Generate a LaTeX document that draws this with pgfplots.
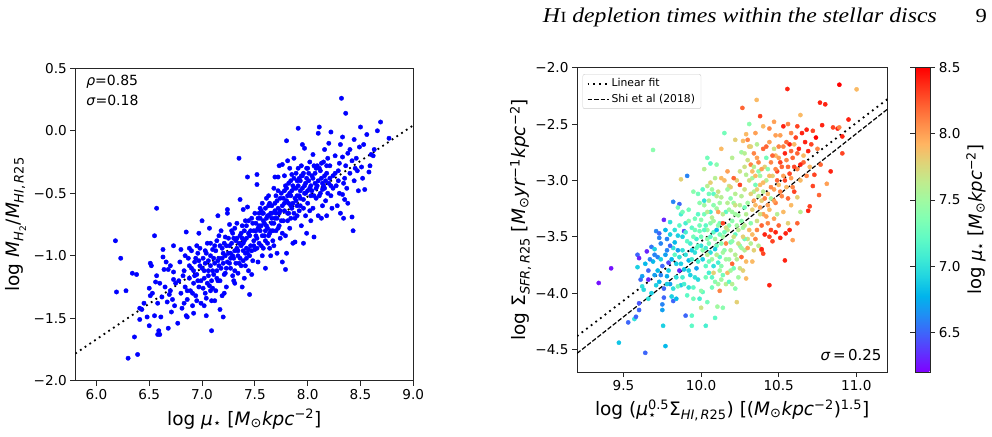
\documentclass[border=0pt]{standalone}
\usepackage{fontspec}
\setmainfont{DejaVu Sans}
\newfontfamily\hdrfont[FakeStretch=1.13]{Liberation Serif}
\usepackage{amsmath}
\usepackage{pgfplots}
\pgfplotsset{compat=1.18}

\newcommand\fs[1]{\fontsize{#1}{#1}\selectfont}

% matplotlib "rainbow" colormap: R=|2x-0.5|, G=sin(pi x), B=cos(pi x/2)
\pgfplotsset{colormap={mplrainbow}{
  rgb=(0.5,0,1) rgb=(0.375,0.195,0.995) rgb=(0.25,0.383,0.981) rgb=(0.125,0.556,0.957)
  rgb=(0,0.707,0.924) rgb=(0.125,0.831,0.882) rgb=(0.25,0.924,0.831) rgb=(0.375,0.981,0.773)
  rgb=(0.5,1,0.707) rgb=(0.625,0.981,0.634) rgb=(0.75,0.924,0.556) rgb=(0.875,0.831,0.471)
  rgb=(1,0.707,0.383) rgb=(1,0.556,0.290) rgb=(1,0.383,0.195) rgb=(1,0.195,0.098) rgb=(1,0,0)}}

\pgfplotsset{mplaxis/.style={
  scale only axis, enlargelimits=false,
  axis line style={line width=0.9pt, black!85},
  tick style={line width=0.9pt, black!85},
  tick align=outside, major tick length=5pt, tick pos=left,
  tick label style={font=\fs{13.6}},
  label style={font=\fs{18.5}},
}}

% log mu_* vs log M_H2/M_HI,R25
\pgfplotstableread{
x y
6.18 -0.88
6.23 -1.02
6.19 -1.29
6.28 -1.28
6.34 -1.14
6.38 -1.15
6.30 -1.82
6.39 -1.79
6.36 -1.65
6.41 -1.42
6.45 -1.38
6.41 -1.51
6.48 -1.49
6.50 -1.56
6.50 -1.26
6.51 -1.32
6.43 -1.43
6.57 -0.62
6.55 -0.84
6.51 -1.06
6.52 -1.08
6.63 -0.95
6.63 -1.01
6.57 -1.16
6.64 -1.11
6.68 -1.11
6.73 -1.13
6.73 -1.19
6.56 -1.21
6.60 -1.22
6.65 -1.25
6.70 -1.28
6.62 -1.33
6.58 -1.38
6.67 -1.37
6.55 -1.48
6.61 -1.49
6.59 -1.60
6.60 -1.63
6.58 -1.63
6.68 -1.58
6.71 -1.45
6.74 -1.40
6.69 -1.31
6.53 -1.30
6.73 -0.92
6.66 -1.05
6.70 -1.08
6.75 -1.22
6.72 -1.35
6.77 -1.54
6.78 -1.20
6.79 -1.05
6.80 -1.30
6.81 -1.42
6.83 -1.12
6.84 -1.25
6.85 -0.81
6.85 -1.48
6.86 -1.35
6.87 -1.02
6.88 -1.18
6.89 -1.28
6.90 -0.96
6.90 -1.10
6.91 -1.40
6.92 -1.22
6.93 -1.05
6.94 -1.32
6.95 -1.15
6.96 -0.98
6.97 -0.82
6.97 -1.25
6.98 -1.08
6.99 -1.38
6.80 -0.95
6.83 -1.38
6.86 -1.49
6.92 -1.46
6.95 -0.92
6.88 -0.94
7.00 -0.72
7.01 -1.02
7.02 -1.18
7.03 -1.30
7.04 -1.48
7.05 -0.90
7.06 -1.12
7.07 -0.78
7.07 -1.24
7.08 -1.00
7.09 -1.60
7.09 -1.36
7.10 -0.95
7.11 -1.15
7.12 -1.06
7.13 -1.28
7.14 -0.88
7.15 -0.68
7.15 -1.20
7.16 -1.02
7.17 -1.43
7.17 -0.92
7.18 -1.10
7.19 -1.32
7.20 -1.49
7.20 -0.98
7.21 -1.15
7.22 -0.85
7.23 -1.25
7.24 -0.63
7.24 -0.66
7.24 -1.05
7.05 -1.22
7.03 -0.96
7.12 -1.36
7.18 -0.80
7.22 -1.00
7.08 -1.08
7.14 -1.12
7.02 -1.40
7.10 -1.26
7.16 -0.84
7.21 -1.30
7.26 -0.92
7.27 -1.10
7.28 -0.80
7.29 -1.00
7.30 -1.20
7.30 -0.86
7.31 -0.96
7.32 -1.06
7.33 -0.74
7.34 -1.14
7.35 -0.22
7.35 -0.90
7.36 -0.55
7.36 -1.02
7.37 -0.82
7.38 -1.25
7.39 -0.63
7.39 -0.96
7.40 -1.18
7.40 -0.88
7.41 -1.08
7.42 -0.76
7.43 -0.37
7.43 -0.61
7.43 -0.98
7.44 -1.12
7.45 -1.31
7.45 -0.84
7.46 -0.92
7.47 -0.70
7.48 -1.04
7.49 -0.80
7.27 -0.98
7.29 -1.16
7.32 -0.88
7.34 -1.00
7.37 -1.08
7.41 -0.72
7.44 -0.95
7.47 -1.15
7.31 -1.22
7.38 -0.86
7.26 -0.75
7.42 -1.02
7.50 -0.95
7.51 -0.74
7.52 -0.43
7.52 -0.35
7.52 -0.86
7.53 -1.05
7.54 -0.66
7.55 -0.80
7.56 -0.92
7.57 -0.58
7.57 -1.00
7.58 -0.72
7.59 -0.84
7.60 -1.10
7.60 -0.62
7.61 -0.76
7.62 -0.90
7.63 -0.52
7.63 -0.68
7.64 -0.82
7.65 -1.00
7.66 -0.60
7.66 -0.74
7.67 -0.88
7.68 -0.46
7.69 -0.37
7.69 -0.70
7.70 -0.80
7.71 -0.98
7.72 -0.37
7.72 -0.62
7.73 -0.28
7.73 -0.76
7.74 -0.54
7.55 -0.70
7.58 -0.94
7.62 -0.78
7.65 -0.66
7.68 -0.92
7.71 -0.56
7.53 -0.78
7.61 -0.54
7.70 -0.66
7.74 -0.86
7.56 -0.64
7.64 -0.94
7.76 -0.27
7.76 -1.05
7.76 -0.60
7.77 -0.72
7.78 -0.48
7.79 -1.11
7.79 -0.84
7.80 -0.08
7.80 -0.98
7.80 -0.56
7.81 -0.24
7.81 -0.66
7.82 -0.42
7.83 -0.78
7.84 -0.52
7.85 -0.62
7.85 -0.35
7.86 -0.90
7.87 -0.22
7.87 -0.46
7.88 -0.89
7.88 -0.70
7.89 -0.56
7.90 -0.40
7.91 0.02
7.91 -0.30
7.92 -0.64
7.93 -0.48
7.94 -0.76
7.95 -0.11
7.95 -0.36
7.96 -0.90
7.96 -0.55
7.97 -0.14
7.97 -0.44
7.98 -0.68
7.99 -0.82
7.99 -0.30
7.78 -0.36
7.82 -0.58
7.84 -0.70
7.89 -0.34
7.92 -0.52
7.94 -0.28
7.98 -0.50
7.86 -0.44
7.90 -0.60
7.83 -0.30
7.93 -0.40
8.00 -0.58
8.01 -0.40
8.02 -0.25
8.03 -0.72
8.04 -0.48
8.05 -0.19
8.05 -0.62
8.06 -0.85
8.07 -0.34
8.08 -0.54
8.09 -0.44
8.10 -0.02
8.10 -0.68
8.11 0.03
8.11 -0.30
8.12 -0.50
8.13 -0.38
8.14 -0.60
8.15 -0.25
8.16 -0.15
8.16 -0.46
8.17 -0.56
8.18 -0.68
8.18 -0.34
8.20 -0.10
8.20 -0.42
8.21 -0.28
8.22 -0.01
8.22 -0.52
8.23 -0.62
8.24 -0.36
8.03 -0.52
8.07 -0.42
8.14 -0.47
8.19 -0.22
8.24 -0.46
8.02 -0.64
8.09 -0.28
8.13 -0.70
8.17 -0.40
8.26 -0.20
8.27 -0.44
8.28 -0.60
8.29 -0.32
8.30 -0.50
8.31 -0.11
8.31 -0.66
8.32 0.26
8.33 -0.05
8.33 -0.21
8.33 -0.51
8.34 -0.70
8.35 -0.38
8.36 0.14
8.36 -0.28
8.37 -0.46
8.38 -0.58
8.40 -0.15
8.40 -0.34
8.42 -0.69
8.42 -0.24
8.43 -0.80
8.44 -0.07
8.44 -0.40
8.46 -0.22
8.47 -0.32
8.48 -0.48
8.49 -0.13
8.50 0.03
8.29 -0.40
8.35 -0.55
8.38 -0.18
8.45 -0.30
8.51 -0.29
8.53 -0.11
8.54 -0.47
8.56 -0.03
8.58 -0.33
8.59 -0.28
8.60 -0.19
8.62 -0.20
8.63 -0.15
8.66 0.00
8.69 0.07
8.77 -0.06
8.52 -0.38
6.92 -1.12
6.94 -1.02
6.96 -1.20
6.98 -0.94
7.00 -1.10
7.01 -1.26
7.03 -1.06
7.04 -0.98
7.06 -1.16
7.08 -0.90
7.09 -1.20
7.11 -1.02
7.13 -0.96
7.14 -1.18
7.16 -1.08
7.19 -0.94
7.20 -1.06
7.22 -1.14
7.23 -0.92
7.25 -0.98
7.26 -1.06
7.28 -0.90
7.30 -1.02
7.31 -0.78
7.33 -0.94
7.35 -1.06
7.36 -0.84
7.38 -0.76
7.39 -0.90
7.41 -0.98
7.42 -0.86
7.44 -0.72
7.46 -0.80
7.47 -0.96
7.49 -0.88
7.50 -0.66
7.51 -0.84
7.53 -0.70
7.54 -0.90
7.56 -0.76
7.57 -0.66
7.59 -0.74
7.60 -0.88
7.62 -0.68
7.63 -0.60
7.65 -0.80
7.66 -0.66
7.68 -0.74
7.69 -0.58
7.71 -0.70
7.72 -0.48
7.74 -0.64
7.75 -0.72
7.77 -0.54
7.78 -0.64
7.80 -0.46
7.81 -0.72
7.83 -0.50
7.84 -0.40
7.86 -0.58
7.87 -0.66
7.89 -0.46
7.90 -0.52
7.92 -0.38
7.93 -0.60
7.95 -0.46
7.96 -0.34
7.98 -0.42
8.00 -0.48
8.01 -0.34
8.03 -0.44
8.05 -0.38
8.06 -0.52
8.08 -0.30
8.10 -0.40
8.12 -0.32
8.14 -0.42
8.16 -0.36
8.19 -0.50
8.21 -0.38
6.82 -1.16
6.84 -1.00
6.86 -1.28
6.88 -1.08
6.91 -1.30
6.93 -1.16
6.95 -1.36
6.97 -1.04
6.99 -1.20
7.02 -1.12
7.04 -1.34
7.06 -1.04
7.08 -1.28
7.10 -1.12
7.12 -0.92
7.15 -1.04
7.17 -1.20
7.19 -1.02
7.21 -0.90
7.23 -1.10
7.25 -0.86
7.27 -1.02
7.29 -0.82
7.31 -1.12
7.33 -0.86
7.34 -0.96
7.37 -0.92
7.39 -1.04
7.40 -0.80
7.42 -0.94
7.44 -0.82
7.45 -1.00
7.48 -0.74
7.49 -0.92
7.51 -0.80
7.52 -0.94
7.54 -0.76
7.55 -0.62
7.57 -0.84
7.58 -0.66
7.60 -0.80
7.61 -0.70
7.63 -0.84
7.64 -0.58
7.66 -0.70
7.67 -0.80
7.69 -0.64
7.70 -0.52
7.72 -0.78
7.73 -0.66
7.75 -0.50
7.76 -0.82
7.78 -0.58
7.79 -0.44
7.81 -0.52
7.82 -0.66
7.84 -0.60
7.85 -0.48
7.87 -0.38
7.88 -0.54
7.90 -0.68
7.91 -0.44
7.93 -0.54
7.94 -0.36
7.96 -0.62
7.97 -0.50
7.99 -0.38
8.00 -0.30
8.02 -0.46
8.04 -0.36
8.06 -0.28
8.08 -0.46
8.11 -0.52
8.13 -0.26
8.15 -0.44
8.18 -0.28
8.22 -0.44
8.26 -0.34
8.30 -0.26
8.34 -0.42
}\ratiodata

% extended Schmidt law sample: x, log Sigma_SFR, colour = log mu_*
\pgfplotstableread{
x y c
9.34 -3.91 6.25
9.42 -3.78 6.25
9.47 -4.44 6.85
9.53 -4.26 6.5
9.57 -4.23 7.0
9.58 -4.21 6.5
9.60 -4.15 6.5
9.60 -4.09 6.45
9.64 -4.53 6.5
9.75 -4.15 6.7
9.75 -4.10 6.6
9.77 -4.47 6.8
9.755 -4.29 6.9
9.59 -3.66 6.5
9.65 -3.63 6.3
9.68 -3.59 6.55
9.70 -3.61 6.9
9.60 -3.69 6.3
9.59 -3.77 6.9
9.66 -3.80 6.5
9.61 -3.88 6.5
9.66 -3.88 6.3
9.62 -3.94 7.0
9.63 -3.97 6.95
9.71 -3.45 6.6
9.73 -3.47 6.5
9.73 -3.51 6.6
9.74 -3.56 6.6
9.76 -3.35 6.3
9.80 -3.37 7.0
9.82 -3.19 6.6
9.86 -3.21 6.5
9.81 -4.03 6.9
9.82 -4.07 6.5
9.76 -4.04 6.5
9.69 -3.72 6.8
9.72 -3.68 6.6
9.75 -3.76 6.5
9.78 -3.62 6.6
9.70 -3.84 6.7
9.73 -3.90 6.8
9.78 -3.85 6.75
9.80 -3.92 6.7
9.76 -3.96 6.5
9.68 -4.00 6.9
9.84 -3.74 6.9
9.86 -3.80 6.3
9.83 -3.55 6.8
9.88 -3.62 7.0
9.87 -3.93 6.9
9.79 -3.73 6.4
9.62 -3.85 6.7
9.66 -4.05 7.0
9.90 -4.20 6.5
9.94 -4.29 7.2
9.94 -4.20 7.2
9.84 -4.05 6.8
9.91 -2.96 6.6
9.87 -2.99 7.8
9.69 -2.73 7.4
9.89 -3.45 6.4
9.85 -3.49 6.9
9.78 -3.52 6.6
9.90 -3.38 7.1
9.92 -3.71 6.8
9.93 -3.84 6.9
9.96 -3.64 7.0
9.98 -3.88 6.95
9.95 -3.95 7.2
9.97 -3.78 6.7
9.89 -3.79 6.85
9.93 -3.56 7.1
9.86 -3.68 7.0
10.00 -4.13 7.7
10.105 -4.12 7.5
10.09 -4.22 7.2
10.03 -4.29 7.1
10.12 -3.98 8.1
10.29 -3.87 7.9
9.98 -3.30 7.2
9.99 -3.45 7.3
10.00 -3.58 7.0
10.01 -3.70 6.9
10.02 -3.22 7.5
10.03 -3.40 7.2
10.04 -3.52 7.4
10.05 -3.82 7.1
10.05 -3.12 7.3
10.06 -3.64 7.0
10.07 -3.33 7.6
10.08 -3.46 7.2
10.09 -3.90 7.4
10.10 -3.58 7.3
10.10 -3.25 7.5
10.11 -3.73 7.1
10.12 -3.38 7.3
10.13 -3.15 7.6
10.14 -3.50 7.5
10.14 -3.84 7.3
10.15 -3.62 7.4
10.16 -3.28 7.2
10.17 -3.44 7.6
10.18 -3.70 7.5
10.18 -3.05 7.7
10.19 -3.55 7.3
10.20 -3.36 7.4
10.21 -3.20 7.5
10.22 -3.66 7.6
10.22 -3.48 7.2
10.23 -3.00 7.8
10.24 -3.31 7.5
10.25 -3.78 7.7
10.25 -3.58 7.4
10.26 -3.14 7.6
10.27 -3.42 7.5
10.28 -3.24 7.3
10.28 -3.62 7.6
10.29 -2.95 7.6
10.30 -3.52 7.7
10.06 -3.02 7.8
10.02 -3.18 7.0
10.08 -3.12 7.2
10.00 -3.35 7.4
10.04 -3.66 7.6
10.12 -3.80 7.5
10.16 -3.92 7.6
10.07 -3.95 7.3
10.15 -3.00 7.9
10.21 -3.78 7.3
10.24 -3.86 7.5
10.18 -3.90 7.2
10.14 -4.13 7.4
10.12 -3.68 7.2
10.08 -3.76 7.0
10.03 -3.86 7.3
10.01 -3.99 7.2
10.10 -3.44 6.8
10.06 -3.28 7.1
10.16 -3.56 8.1
10.20 -3.74 8.2
10.14 -3.38 8.3
10.11 -3.28 8.0
10.22 -3.30 7.5
10.09 -3.61 6.9
10.19 -3.16 7.4
9.97 -3.52 7.1
9.99 -3.20 7.4
9.96 -3.34 7.3
10.04 -3.05 7.6
10.13 -2.98 7.9
10.10 -2.86 7.4
10.06 -2.85 7.2
10.15 -2.58 7.3
10.22 -2.64 7.8
10.13 -2.72 7.9
10.17 -2.92 8.0
10.20 -2.80 7.6
10.26 -2.75 7.5
10.27 -2.65 7.9
10.28 -2.88 7.7
10.21 -2.98 8.2
10.25 -3.04 8.3
10.29 -2.59 7.9
10.30 -2.64 8.1
10.31 -2.70 7.9
10.31 -2.50 7.4
10.358 -2.286 7.9
10.266 -2.357 8.2
10.38 -2.43 8.3
10.32 -2.86 8.1
10.33 -2.98 7.5
10.34 -3.10 7.6
10.35 -3.22 7.9
10.36 -2.80 8.0
10.36 -3.36 7.7
10.37 -2.92 7.4
10.38 -3.04 7.9
10.39 -3.18 7.8
10.40 -2.72 8.2
10.40 -3.30 8.0
10.41 -2.88 7.8
10.42 -3.00 7.6
10.43 -3.12 7.9
10.44 -2.66 8.0
10.44 -3.26 7.9
10.45 -2.84 8.1
10.46 -2.96 7.8
10.47 -3.08 8.0
10.48 -2.78 7.9
10.48 -3.20 8.1
10.49 -2.92 8.3
10.50 -2.70 8.1
10.50 -3.04 7.9
10.51 -2.84 8.3
10.52 -3.14 8.1
10.53 -2.96 8.0
10.54 -2.76 8.4
10.55 -3.06 7.9
10.56 -2.88 8.2
10.57 -2.68 8.4
10.58 -2.98 8.0
10.59 -2.80 8.2
10.60 -3.10 8.3
10.61 -2.62 8.3
10.62 -2.90 8.1
10.63 -2.72 8.4
10.64 -3.00 7.9
10.65 -2.58 8.4
10.66 -2.84 8.2
10.67 -2.66 8.4
10.68 -2.96 8.1
10.69 -2.74 8.4
10.70 -2.88 7.9
10.34 -2.88 7.6
10.38 -2.96 7.5
10.42 -2.80 7.3
10.35 -3.04 7.3
10.37 -3.14 7.6
10.33 -3.26 7.8
10.39 -3.40 8.2
10.41 -3.48 8.4
10.43 -3.38 8.1
10.45 -3.44 8.3
10.47 -3.34 8.0
10.50 -3.40 8.2
10.53 -3.28 7.9
10.56 -3.38 7.8
10.46 -3.54 8.3
10.49 -3.30 7.6
10.45 -3.16 7.5
10.40 -3.10 7.6
10.43 -2.90 7.4
10.47 -2.72 7.7
10.51 -2.60 8.0
10.55 -2.66 8.2
10.58 -2.58 8.1
10.60 -2.68 7.9
10.53 -2.52 8.4
10.48 -2.60 8.0
10.44 -2.54 8.1
10.40 -2.52 7.9
10.36 -2.68 7.6
10.34 -2.76 8.1
10.32 -3.38 7.4
10.30 -3.20 7.5
10.31 -3.44 7.9
10.28 -3.52 7.3
10.35 -3.52 8.1
10.37 -3.58 7.6
10.30 -3.60 8.0
10.33 -3.72 7.9
10.26 -3.68 8.2
10.39 -3.62 8.1
10.891 -2.151 8.5
11.002 -2.192 7.9
10.556 -2.189 8.4
10.766 -2.31 8.4
10.80 -2.325 8.4
10.64 -2.42 7.9
10.95 -2.46 8.4
10.78 -2.51 8.4
10.85 -2.53 8.3
10.88 -2.54 8.4
10.89 -2.53 8.1
10.91 -2.61 8.4
10.91 -2.76 8.3
10.835 -2.92 8.4
10.81 -3.03 8.0
10.72 -3.05 8.3
10.76 -3.13 8.2
10.70 -3.23 8.3
10.69 -3.27 8.4
10.59 -3.53 8.0
10.54 -3.71 8.4
10.44 -3.93 8.4
10.545 -3.47 8.4
10.51 -3.51 8.4
10.39 -3.61 8.4
10.40 -3.65 8.3
10.72 -2.56 8.3
10.74 -2.62 8.5
10.71 -2.68 8.3
10.68 -2.55 8.4
10.75 -2.72 8.1
10.66 -2.78 7.9
10.77 -2.86 8.2
10.73 -2.95 8.3
10.62 -3.15 7.8
10.58 -3.22 7.9
10.62 -3.38 8.2
10.64 -3.28 7.6
10.57 -3.44 8.4
10.56 -2.50 8.1
10.62 -2.52 8.3
10.47 -2.48 8.0
9.98 -3.12 7.3
10.01 -3.08 7.2
10.07 -3.08 7.5
10.05 -3.18 7.6
10.02 -2.90 7.6
10.04 -2.80 7.3
9.95 -3.10 7.4
9.92 -3.26 7.3
9.94 -3.42 7.2
9.87 -3.30 7.1
9.85 -3.24 7.3
9.88 -3.50 6.9
9.83 -3.66 7.2
9.92 -3.95 7.0
9.95 -4.05 7.3
9.99 -4.05 7.1
10.00 -3.98 7.4
10.04 -4.08 7.3
10.08 -3.82 7.8
10.13 -3.88 7.5
10.20 -3.92 7.6
10.22 -3.96 7.4
10.27 -3.80 7.8
10.17 -3.82 7.9
10.23 -4.08 7.8
9.72 -3.80 6.8
9.74 -3.70 6.9
9.77 -3.66 6.7
9.79 -3.80 6.9
9.81 -3.70 6.8
9.82 -3.60 7.0
9.84 -3.86 7.0
9.85 -3.62 6.7
9.87 -3.74 6.9
9.88 -3.86 7.1
9.90 -3.66 7.0
9.91 -3.54 7.2
9.92 -3.80 6.9
9.94 -3.70 7.1
9.95 -3.50 7.3
9.96 -3.86 7.0
9.97 -3.60 7.2
9.98 -3.72 7.1
9.99 -3.40 7.3
9.80 -3.48 6.9
9.83 -3.44 7.0
9.86 -3.40 7.2
9.88 -3.28 7.3
9.90 -3.46 7.1
9.92 -3.36 7.4
9.94 -3.62 6.9
9.96 -3.44 7.3
9.98 -3.58 7.2
9.78 -3.92 6.9
9.82 -3.96 7.0
9.85 -3.94 7.3
9.89 -3.92 7.1
9.91 -4.02 7.2
9.74 -3.84 6.6
9.70 -3.66 6.6
9.67 -3.70 6.6
9.64 -3.74 6.8
9.71 -3.93 6.9
9.80 -3.58 6.5
9.77 -3.44 6.8
10.00 -3.50 7.3
10.01 -3.62 7.4
10.02 -3.30 7.3
10.03 -3.76 7.2
10.04 -3.44 7.5
10.05 -3.56 7.3
10.06 -3.38 7.4
10.07 -3.70 7.5
10.08 -3.22 7.4
10.09 -3.52 7.5
10.10 -3.66 7.6
10.11 -3.40 7.4
10.12 -3.20 7.5
10.13 -3.56 7.4
10.14 -3.30 7.6
10.15 -3.46 7.3
10.16 -3.70 7.5
10.17 -3.20 7.6
10.18 -3.40 7.4
10.19 -3.62 7.6
10.20 -3.28 7.5
10.21 -3.50 7.7
10.22 -3.12 7.6
10.23 -3.40 7.5
10.24 -3.56 7.7
10.25 -3.22 7.6
10.26 -3.36 7.4
10.27 -3.50 7.8
10.28 -3.08 7.7
10.29 -3.30 7.6
10.02 -3.44 7.2
10.04 -3.28 7.6
10.06 -3.50 7.2
10.08 -3.36 7.5
10.10 -3.14 7.6
10.12 -3.48 7.3
10.14 -3.64 7.5
10.16 -3.42 7.7
10.18 -3.26 7.5
10.20 -3.54 7.4
10.22 -3.22 7.7
10.24 -3.44 7.6
10.26 -3.60 7.5
10.28 -3.40 7.6
10.11 -3.10 7.7
10.19 -3.06 7.8
10.25 -2.92 7.7
10.17 -3.08 7.5
10.09 -2.98 7.6
10.03 -3.60 7.1
10.05 -3.72 7.3
10.13 -3.76 7.4
10.07 -3.86 7.2
10.11 -3.92 7.5
10.19 -3.80 7.5
10.23 -3.70 7.6
10.31 -3.00 7.7
10.32 -3.12 7.8
10.33 -2.92 7.9
10.34 -3.18 8.0
10.35 -2.96 7.9
10.36 -3.08 7.8
10.37 -2.84 8.1
10.38 -3.24 8.0
10.39 -2.90 8.0
10.40 -3.02 7.9
10.41 -3.16 8.1
10.42 -2.70 8.2
10.43 -3.22 8.0
10.44 -2.96 7.9
10.45 -3.06 8.1
10.46 -2.78 8.2
10.47 -3.18 8.0
10.48 -2.90 8.1
10.49 -3.00 8.2
10.50 -2.80 8.0
10.51 -3.10 8.1
10.52 -2.88 8.2
10.53 -2.70 8.1
10.54 -3.00 8.3
10.55 -2.82 8.1
10.56 -3.16 8.2
10.57 -2.94 8.3
10.58 -2.74 8.2
10.59 -3.06 8.1
10.60 -2.88 8.3
10.62 -2.76 8.2
10.64 -2.86 8.4
10.33 -3.48 7.9
10.36 -3.44 8.1
10.38 -3.30 7.7
10.42 -3.32 8.0
10.44 -3.50 8.3
10.48 -3.46 8.4
10.34 -3.62 7.8
10.29 -3.72 7.9
10.32 -3.56 7.6
10.30 -2.82 7.7
10.32 -2.70 7.8
10.35 -2.58 8.0
10.28 -2.76 7.6
}\schmidtdata

\begin{document}
\begin{tikzpicture}
\useasboundingbox (0pt,0pt) rectangle (992pt,436pt);

% running head
\node[anchor=base east, inner sep=0pt, font=\hdrfont\fs{21}] at (937pt,413.3pt)
  {\itshape H\kern0.5pt{\upshape\fs{15.5}I} depletion times within the stellar discs};
\node[anchor=base east, inner sep=0pt, font=\hdrfont\fs{20}] at (987pt,413.3pt) {9};

% ---------- left panel ----------
\begin{axis}[mplaxis,
  at={(75.3pt,55.3pt)}, anchor=south west,
  width=338pt, height=312.4pt,
  xmin=5.8, xmax=9.0, ymin=-2, ymax=0.5,
  xtick={6,6.5,7,7.5,8,8.5,9},
  xticklabels={6.0,6.5,7.0,7.5,8.0,8.5,9.0},
  ytick={-2,-1.5,-1,-0.5,0,0.5},
  yticklabels={−2.0,−1.5,−1.0,−0.5,0.0,0.5},
  xlabel={log \textit{μ}\textsubscript{⋆} [\textit{M}\textsubscript{⊙}\textit{kpc}\textsuperscript{−2}]},
  ylabel={log \textit{M}\textsubscript{\textit{H}\textsubscript{2}}/\textit{M}\textsubscript{\textit{HI},\,\textit{R}25}},
  xlabel style={at={(axis description cs:0.5,-0.1226)}, anchor=center},
  ylabel style={at={(axis description cs:-0.1755,0.5)}, anchor=center},
]
\addplot[blue, only marks, mark=*, mark size=2.2pt, mark options={draw=blue, fill=blue}] table[x=x,y=y] {\ratiodata};
\addplot[black, line width=1.8pt, dash pattern=on 1.8pt off 3.9pt] coordinates {(5.8,-1.783) (9.0,0.044)};
\node[anchor=base west, font=\fs{14}, inner sep=0pt] at (axis description cs:0.032,0.9434) {\textit{ρ}=0.85};
\node[anchor=base west, font=\fs{14}, inner sep=0pt] at (axis description cs:0.032,0.8794) {\textit{σ}=0.18};
\end{axis}

% ---------- right panel ----------
\begin{axis}[mplaxis,
  at={(577pt,64pt)}, anchor=south west,
  width=310.3pt, height=304.3pt,
  xmin=9.2, xmax=11.2, ymin=-4.7, ymax=-2.0,
  xtick={9.5,10,10.5,11},
  xticklabels={9.5,10.0,10.5,11.0},
  ytick={-4.5,-4,-3.5,-3,-2.5,-2},
  yticklabels={−4.5,−4.0,−3.5,−3.0,−2.5,−2.0},
  xlabel={log ($\text{\textit{μ}}^{\text{0.5}}_{\text{⋆}}$Σ\textsubscript{\textit{HI},\,\textit{R}25}) [(\textit{M}\textsubscript{⊙}\textit{kpc}\textsuperscript{−2})\textsuperscript{1.5}]},
  ylabel={log Σ\textsubscript{\textit{SFR},\,\textit{R}25} [\textit{M}\textsubscript{⊙}\textit{yr}\textsuperscript{−1}\textit{kpc}\textsuperscript{−2}]},
  xlabel style={at={(axis description cs:0.5,-0.125)}, anchor=center},
  ylabel style={at={(axis description cs:-0.182,0.5)}, anchor=center},
  colormap name=mplrainbow,
  point meta min=6.2, point meta max=8.5,
  colorbar,
  colorbar style={
    at={(parent axis.north east)}, anchor=north west, xshift=19.4pt,
    scale only axis, width=15pt, height=304.3pt,
    axis line style={line width=0.9pt, black!85},
    ytick={6.5,7,7.5,8,8.5},
    yticklabels={6.5,7.0,7.5,8.0,8.5},
    tick align=outside, major tick length=5pt,
    tick style={line width=0.9pt, black!85},
    yticklabel style={font=\fs{13.6}},
    ylabel={log \textit{μ}\textsubscript{⋆} [\textit{M}\textsubscript{⊙}\textit{kpc}\textsuperscript{−2}]},
    ylabel style={font=\fs{18}, at={(axis description cs:4.05,0.5)}, anchor=center},
  },
  legend cell align=left,
  legend style={at={(axis description cs:0.018,0.979)}, anchor=north west,
    draw=black!20, rounded corners=2pt, font=\fs{10.8},
    inner xsep=4pt, inner ysep=2.5pt, row sep=2pt},
  legend image code/.code={\draw[#1] (0pt,0pt) -- (21pt,0pt);},
]
\addplot[scatter, only marks, mark=*, mark size=2.1pt, point meta=explicit,
  scatter/use mapped color={draw=mapped color, fill=mapped color}, forget plot]
  table[x=x, y=y, meta=c] {\schmidtdata};
\addplot[black, line width=1.8pt, dash pattern=on 1.8pt off 4pt] coordinates {(9.2,-4.382) (11.2,-2.28)};
\addlegendentry{Linear fit}
\addplot[black, line width=1.2pt, dash pattern=on 4.5pt off 2pt] coordinates {(9.2,-4.535) (11.2,-2.369)};
\addlegendentry{Shi et al (2018)}
\node[anchor=base east, font=\fs{15}, inner sep=0pt] at (axis description cs:0.982,0.0375) {\textit{σ}\,=\,0.25};
\end{axis}
\end{tikzpicture}
\end{document}
